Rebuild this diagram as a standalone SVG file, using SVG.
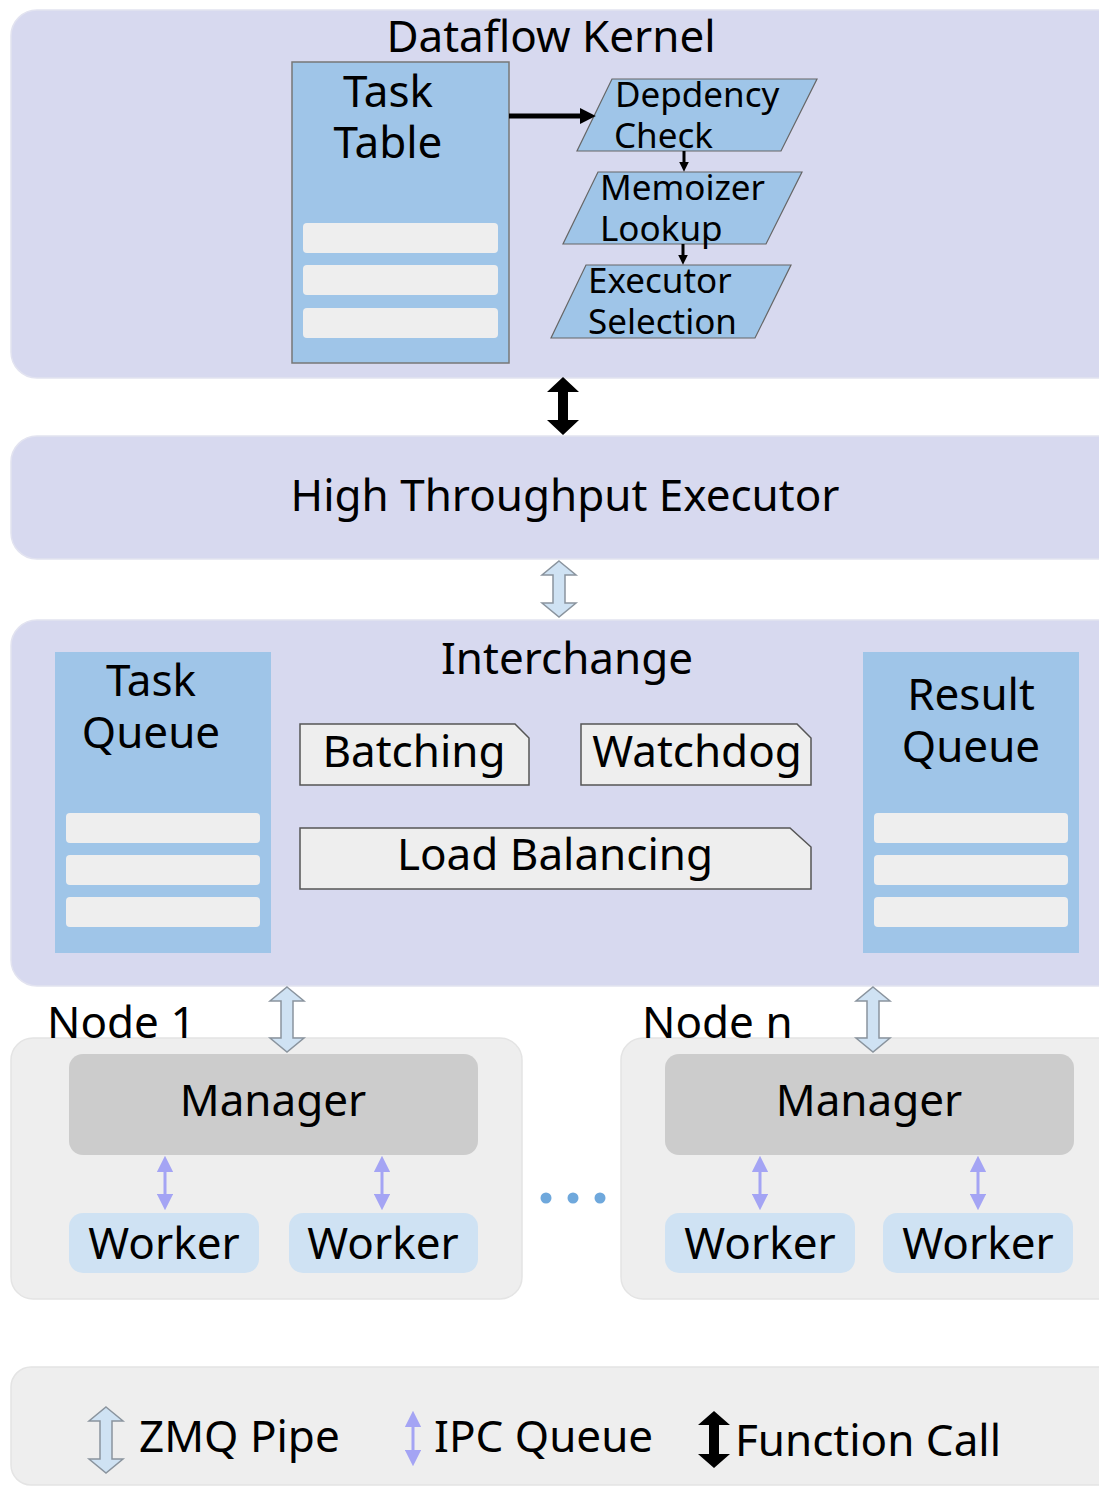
<svg xmlns="http://www.w3.org/2000/svg" width="1099" height="1486" viewBox="0 0 1099 1486">
  <style>
    text { font-family: "Noto Sans", "Open Sans", "DejaVu Sans", sans-serif; fill: #000; }
    .panel { fill: #d7d9ef; stroke: #e2e3f0; stroke-width: 1.5; }
    .node { fill: #eeeeee; stroke: #e4e4e4; stroke-width: 1.5; }
    .queue { fill: #9fc5e8; }
    .slot { fill: #eeeeee; }
    .para { fill: #9fc5e8; stroke: #666; stroke-width: 1.2; }
    .tab { fill: #eeeeee; stroke: #555; stroke-width: 1.5; }
    .mgr { fill: #cccccc; }
    .wrk { fill: #cfe2f3; }
    .zmq { fill: #cfe2f3; stroke: #8a949e; stroke-width: 1.5; stroke-linejoin: miter; }
    .fcall { fill: #000; }
    .ipc { stroke: #a4a4f4; stroke-width: 3; fill: none; marker-start: url(#ipcHead); marker-end: url(#ipcHead); }
    .big { font-size: 44px; }
    .mid { font-size: 35px; }
  </style>
  <defs>
    <marker id="ipcHead" viewBox="0 0 10 10" refX="2" refY="5" markerWidth="5.5" markerHeight="5.5" orient="auto-start-reverse" markerUnits="strokeWidth">
      <path d="M0,0 L10,5 L0,10 Z" fill="#a4a4f4"/>
    </marker>
    <marker id="blkHead" viewBox="0 0 10 10" refX="2" refY="5" markerWidth="3.2" markerHeight="3.2" orient="auto" markerUnits="strokeWidth">
      <path d="M0,0 L10,5 L0,10 Z" fill="#000"/>
    </marker>
  </defs>

  <rect width="1099" height="1486" fill="#ffffff"/>

  <!-- Dataflow Kernel -->
  <g id="dataflow-kernel">
    <rect class="panel" x="11" y="10" width="1120" height="368" rx="26"/>
    <text class="big" x="551" y="52" text-anchor="middle">Dataflow Kernel</text>
  </g>

  <g id="task-table">
    <rect x="292" y="62" width="217" height="301" fill="#9fc5e8" stroke="#777" stroke-width="1.5"/>
    <text class="big" x="388" y="107" text-anchor="middle">Task</text>
    <text class="big" x="388" y="158" text-anchor="middle">Table</text>
    <rect class="slot" x="303" y="223" width="195" height="30" rx="4"/>
    <rect class="slot" x="303" y="265" width="195" height="30" rx="4"/>
    <rect class="slot" x="303" y="308" width="195" height="30" rx="4"/>
  </g>

  <g id="dependency-check">
    <polygon class="para" points="612,79 817,79 781,151 577,151"/>
    <text class="mid" x="615" y="107">Depdency</text>
    <text class="mid" x="614" y="148">Check</text>
  </g>

  <g id="memoizer-lookup">
    <polygon class="para" points="598,172 802,172 766,244 563,244"/>
    <text class="mid" x="600" y="200">Memoizer</text>
    <text class="mid" x="600" y="241">Lookup</text>
  </g>

  <g id="executor-selection">
    <polygon class="para" points="586,265 791,265 755,338 551,338"/>
    <text class="mid" x="588" y="293">Executor</text>
    <text class="mid" x="588" y="334">Selection</text>
  </g>

  <!-- High Throughput Executor -->
  <g id="htex">
    <rect class="panel" x="11" y="436" width="1120" height="123" rx="26"/>
    <text class="big" x="565" y="511" text-anchor="middle">High Throughput Executor</text>
  </g>

  <!-- Interchange -->
  <g id="interchange">
    <rect class="panel" x="11" y="620" width="1120" height="366" rx="26"/>
    <text class="big" x="567" y="674" text-anchor="middle">Interchange</text>
  </g>

  <g id="task-queue">
    <rect class="queue" x="55" y="652" width="216" height="301"/>
    <text class="big" x="151" y="696" text-anchor="middle">Task</text>
    <text class="big" x="151" y="748" text-anchor="middle">Queue</text>
    <rect class="slot" x="66" y="813" width="194" height="30" rx="4"/>
    <rect class="slot" x="66" y="855" width="194" height="30" rx="4"/>
    <rect class="slot" x="66" y="897" width="194" height="30" rx="4"/>
  </g>

  <g id="result-queue">
    <rect class="queue" x="863" y="652" width="216" height="301"/>
    <text class="big" x="971" y="710" text-anchor="middle">Result</text>
    <text class="big" x="971" y="762" text-anchor="middle">Queue</text>
    <rect class="slot" x="874" y="813" width="194" height="30" rx="4"/>
    <rect class="slot" x="874" y="855" width="194" height="30" rx="4"/>
    <rect class="slot" x="874" y="897" width="194" height="30" rx="4"/>
  </g>

  <g id="batching">
    <path class="tab" d="M300,724 H515 L529,738 V785 H300 Z"/>
    <text class="big" x="414" y="767" text-anchor="middle">Batching</text>
  </g>

  <g id="watchdog">
    <path class="tab" d="M581,724 H797 L811,738 V785 H581 Z"/>
    <text class="big" x="697" y="767" text-anchor="middle">Watchdog</text>
  </g>

  <g id="load-balancing">
    <path class="tab" d="M300,828 H790 L811,847 V889 H300 Z"/>
    <text class="big" x="555" y="870" text-anchor="middle">Load Balancing</text>
  </g>

  <!-- Node 1 -->
  <g id="node-1">
    <rect class="node" x="11" y="1038" width="511" height="261" rx="22"/>
    <text class="big" x="47" y="1038">Node 1</text>
  </g>
  <g id="manager-1">
    <rect class="mgr" x="69" y="1054" width="409" height="101" rx="14"/>
    <text class="big" x="273" y="1116" text-anchor="middle">Manager</text>
  </g>
  <g id="worker-1a">
    <rect class="wrk" x="69" y="1213" width="190" height="60" rx="14"/>
    <text class="big" x="164" y="1259" text-anchor="middle">Worker</text>
  </g>
  <g id="worker-1b">
    <rect class="wrk" x="289" y="1213" width="189" height="60" rx="14"/>
    <text class="big" x="383" y="1259" text-anchor="middle">Worker</text>
  </g>

  <!-- Node n -->
  <g id="node-n">
    <rect class="node" x="621" y="1038" width="520" height="261" rx="22"/>
    <text class="big" x="642" y="1038">Node n</text>
  </g>
  <g id="manager-n">
    <rect class="mgr" x="665" y="1054" width="409" height="101" rx="14"/>
    <text class="big" x="869" y="1116" text-anchor="middle">Manager</text>
  </g>
  <g id="worker-na">
    <rect class="wrk" x="665" y="1213" width="190" height="60" rx="14"/>
    <text class="big" x="760" y="1259" text-anchor="middle">Worker</text>
  </g>
  <g id="worker-nb">
    <rect class="wrk" x="883" y="1213" width="190" height="60" rx="14"/>
    <text class="big" x="978" y="1259" text-anchor="middle">Worker</text>
  </g>

  <g id="ellipsis" fill="#6fa8dc">
    <circle cx="546" cy="1198" r="5.5"/>
    <circle cx="573" cy="1198" r="5.5"/>
    <circle cx="600" cy="1198" r="5.5"/>
  </g>

  <!-- Legend -->
  <g id="legend">
    <rect class="node" x="11" y="1367" width="1120" height="118" rx="20"/>
    <path class="zmq" d="M106,1407 L123,1421 L112,1421 L112,1459 L123,1459 L106,1473 L89,1459 L100,1459 L100,1421 L89,1421 Z"/>
    <text class="big" x="139" y="1452">ZMQ Pipe</text>
    <line class="ipc" x1="413" y1="1424" x2="413" y2="1453"/>
    <text class="big" x="434" y="1452">IPC Queue</text>
    <path class="fcall" d="M714,1411 L730,1425 L719,1425 L719,1454 L730,1454 L714,1468 L698,1454 L709,1454 L709,1425 L698,1425 Z"/>
    <text class="big" x="735" y="1456">Function Call</text>
  </g>

  <!-- Connectors -->
  <g id="connectors">
    <!-- task table to dependency check -->
    <line x1="509" y1="116" x2="583" y2="116" stroke="#000" stroke-width="5" marker-end="url(#blkHead)"/>
    <line x1="684" y1="151" x2="684" y2="164" stroke="#000" stroke-width="3" marker-end="url(#blkHead)"/>
    <line x1="683" y1="244" x2="683" y2="257" stroke="#000" stroke-width="3" marker-end="url(#blkHead)"/>
    <!-- kernel to executor: function call -->
    <path class="fcall" d="M563,377 L579,392 L568,392 L568,420 L579,420 L563,435 L547,420 L558,420 L558,392 L547,392 Z"/>
    <!-- executor to interchange: zmq -->
    <path class="zmq" d="M559,561 L576,575 L565,575 L565,603 L576,603 L559,617 L542,603 L553,603 L553,575 L542,575 Z"/>
    <!-- interchange to managers: zmq -->
    <path class="zmq" d="M287,987 L304,1001 L293,1001 L293,1038 L304,1038 L287,1052 L270,1038 L281,1038 L281,1001 L270,1001 Z"/>
    <path class="zmq" d="M873,987 L890,1001 L879,1001 L879,1038 L890,1038 L873,1052 L856,1038 L867,1038 L867,1001 L856,1001 Z"/>
    <!-- manager to workers: ipc -->
    <line class="ipc" x1="165" y1="1169" x2="165" y2="1197"/>
    <line class="ipc" x1="382" y1="1169" x2="382" y2="1197"/>
    <line class="ipc" x1="760" y1="1169" x2="760" y2="1197"/>
    <line class="ipc" x1="978" y1="1169" x2="978" y2="1197"/>
  </g>
</svg>
